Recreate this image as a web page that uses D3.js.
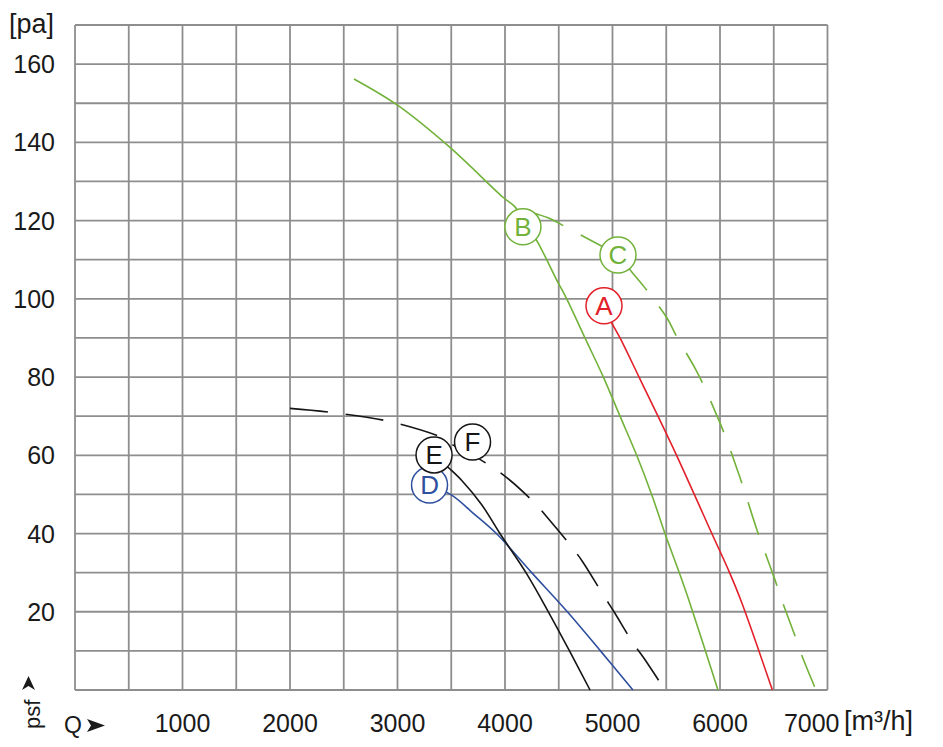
<!DOCTYPE html>
<html><head><meta charset="utf-8">
<script src="https://cdn.jsdelivr.net/npm/d3@7"></script>
<style>
body{margin:0;background:#fff}
svg{display:block}
text{font-family:"Liberation Sans",Arial,Helvetica,sans-serif;fill:#1a1a1a}
</style>
</head><body>
<svg id="c" width="943" height="747"></svg>
<script>
// ---- data ----
const xTicks = [1000, 2000, 3000, 4000, 5000, 6000, 7000];
const yTicks = [20, 40, 60, 80, 100, 120, 140, 160];
const xUnit = "[m³/h]";
const yUnit = "[pa]";
const xName = "Q";
const yName = "psf";

// curves: [Q m3/h, p Pa]
const curveA = [[4921,98.2],[4990,94],[5070,90],[5247,80],[5423,70],[5596,60],[5761,50],[5924,40],[6089,30],[6200,22.5],[6487,0]];
const curveB = [[2595,156.2],[3000,149.5],[3488,138.7],[3984,125.9],[4093,123.5],[4200,119],[4310,114.2],[4481,104.8],[4574,100],[4744,90],[4915,80],[5070,70],[5225,60],[5364,50],[5488,40],[5621,30],[5710,23],[5981,0]];
const curveC = [[4250,122],[4400,120.7],[4623,117.5],[4884,113.7],[5051,111.2],[5181,106.8],[5302,102.8],[5507,95.1],[5600,90.2],[5767,82.3],[5851,77.7],[5981,69.5],[6056,64.4],[6177,55],[6233,50.4],[6344,40.9],[6400,36.6],[6512,28.1],[6577,22.8],[6698,13.8],[6763,8.7],[6893,0]];
const curveD = [[3298,52.4],[3504,49.8],[3700,45.3],[3920,40],[4248,30],[4580,20],[4888,10],[5190,0]];
const curveE = [[3340,60.1],[3488,56.5],[3600,53.5],[3780,47.5],[3953,40],[4195,30],[4403,20],[4600,10],[4791,0]];
const curveF = [[2000,72],[2372,71],[2900,68.8],[3423,64.4],[3519,62.6],[3650,60.8],[3800,58.4],[4016,54.3],[4279,47.7],[4388,44.3],[4620,36.6],[4722,32.8],[4914,24.3],[5014,20],[5194,11.9],[5293,8.1],[5488,0]];

const seriesNames  = ["A", "B", "C", "D", "E", "F"];
const seriesData   = [curveA, curveB, curveC, curveD, curveE, curveF];
const seriesColors = ["#e3202a", "#72b23a", "#72b23a", "#2f4f9f", "#151515", "#151515"];
const seriesDashed = [false, false, true, false, false, true];
// label anchor points (data coordinates)
const labelPoints  = [[4921,98.2],[4167,118.4],[5051,111.2],[3298,52.4],[3340,60.1],[3698,63.4]];

// ---- chart ----
const svg = d3.select("#c");
const x = d3.scaleLinear().domain([0, 7000]).range([75, 827.5]);
const y = d3.scaleLinear().domain([0, 170]).range([690, 25]);

const grid = svg.append("g").attr("stroke", "#8e8e8e").attr("stroke-width", 1.8);
grid.selectAll("line.v").data(d3.range(0, 7001, 500)).join("line")
  .attr("x1", d => x(d)).attr("x2", d => x(d)).attr("y1", y(0)).attr("y2", y(170));
grid.selectAll("line.h").data(d3.range(0, 171, 10)).join("line")
  .attr("x1", x(0)).attr("x2", x(7000)).attr("y1", d => y(d)).attr("y2", d => y(d));

// y tick labels
svg.append("g").selectAll("text").data(yTicks).join("text")
  .attr("x", 55).attr("y", d => y(d)).attr("dy", "0.36em")
  .attr("text-anchor", "end").attr("font-size", 25).text(d => d);
// x tick labels
svg.append("g").selectAll("text").data(xTicks).join("text")
  .attr("x", (d, i) => i === xTicks.length - 1 ? x(d) + 12 : x(d))
  .attr("y", 732)
  .attr("text-anchor", (d, i) => i === xTicks.length - 1 ? "end" : "middle")
  .attr("font-size", 25).text(d => d);

svg.append("text").attr("x", 844).attr("y", 730).attr("font-size", 27).text(xUnit);
svg.append("text").attr("x", 9).attr("y", 33).attr("font-size", 27).text(yUnit);

// Q arrow
svg.append("text").attr("x", 64).attr("y", 733).attr("font-size", 23).text(xName);
svg.append("path").attr("d", "M87,719 L105,725.5 L87,732 L91,725.5 Z").attr("fill", "#1a1a1a");
// psf arrow (rotated)
svg.append("text").attr("transform", "translate(40,729) rotate(-90)").attr("font-size", 22).text(yName);
svg.append("path").attr("d", "M22,690 L28.5,676 L35,690 L28.5,686 Z").attr("fill", "#1a1a1a");

// curves
const line = d3.line().x(d => x(d[0])).y(d => y(d[1])).curve(d3.curveCatmullRom.alpha(0.5));
svg.append("g").selectAll("path").data(seriesData).join("path")
  .attr("d", d => line(d))
  .attr("fill", "none")
  .attr("stroke", (d, i) => seriesColors[i])
  .attr("stroke-width", 1.6)
  .attr("stroke-dasharray", (d, i) => seriesDashed[i] ? (seriesNames[i] === "F" ? "38,18" : "34,20") : null);

// labels
const lab = svg.append("g").selectAll("g").data(seriesNames).join("g")
  .attr("transform", (d, i) => `translate(${x(labelPoints[i][0])},${y(labelPoints[i][1])})`);
lab.append("circle").attr("r", 18).attr("fill", "#fff")
  .attr("stroke", (d, i) => seriesColors[i]).attr("stroke-width", 1.5);
lab.append("text").attr("text-anchor", "middle").attr("dy", "0.36em")
  .attr("font-size", 26).style("fill", (d, i) => seriesColors[i]).text(d => d);
</script>
</body></html>
